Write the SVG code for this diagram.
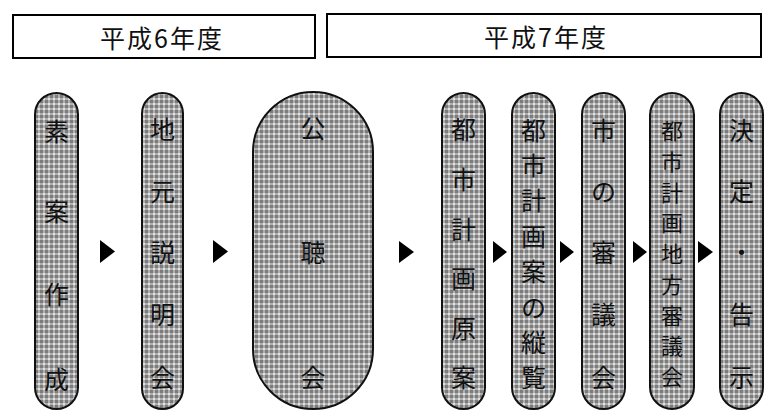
<svg xmlns="http://www.w3.org/2000/svg" width="766" height="410" viewBox="0 0 766 410">
<style>
.hdr{fill:#ffffff;stroke:#000000;stroke-width:2}
.pill{fill:url(#chk);stroke:#111111;stroke-width:2}
.ht{font-family:"Noto Sans CJK JP","Noto Sans",sans-serif;font-size:25px;fill:#111111;text-anchor:middle;dominant-baseline:central;letter-spacing:2px}
.t{font-family:"Noto Sans CJK JP","Noto Sans",sans-serif;font-size:25px;fill:#111111;text-anchor:middle;dominant-baseline:central}
.s{font-size:22px}
.arr{fill:#000000}
</style>
<defs>
<pattern id="chk" width="5" height="5" patternUnits="userSpaceOnUse">
<rect width="5" height="5" fill="#b0b0b0"/>
<rect x="0" y="0" width="3" height="3" fill="#7c7c7c"/>
<rect x="3" y="3" width="2" height="2" fill="#e2e2e2"/>
</pattern>
</defs>
<rect width="766" height="410" fill="#ffffff"/>
<g id="header1">
<rect class="hdr" x="13" y="15" width="302" height="43"/>
<text class="ht" x="162" y="37">平成6年度</text>
</g>
<g id="header2">
<rect class="hdr" x="327" y="14" width="434" height="43"/>
<text class="ht" x="546" y="36">平成7年度</text>
</g>
<g id="node1">
<rect class="pill" x="35" y="93" width="43" height="316" rx="21.5"/>
<text class="t" x="56.5" y="130">素</text>
<text class="t" x="56.5" y="210">案</text>
<text class="t" x="56.5" y="293">作</text>
<text class="t" x="56.5" y="378">成</text>
</g>
<g id="node2">
<rect class="pill" x="142" y="93" width="41" height="316" rx="20.5"/>
<text class="t" x="162.5" y="128">地</text>
<text class="t" x="162.5" y="190">元</text>
<text class="t" x="162.5" y="251">説</text>
<text class="t" x="162.5" y="313">明</text>
<text class="t" x="162.5" y="376">会</text>
</g>
<g id="node3">
<rect class="pill" x="253" y="92" width="120" height="317" rx="60"/>
<text class="t" x="313" y="127">公</text>
<text class="t" x="313" y="251">聴</text>
<text class="t" x="313" y="376">会</text>
</g>
<g id="node4">
<rect class="pill" x="442" y="93" width="43" height="316" rx="21.5"/>
<text class="t" x="463.5" y="128">都</text>
<text class="t" x="463.5" y="178">市</text>
<text class="t" x="463.5" y="228">計</text>
<text class="t" x="463.5" y="277">画</text>
<text class="t" x="463.5" y="327">原</text>
<text class="t" x="463.5" y="376">案</text>
</g>
<g id="node5">
<rect class="pill" x="512" y="93" width="43" height="316" rx="21.5"/>
<text class="t" x="533.5" y="129">都</text>
<text class="t" x="533.5" y="164">市</text>
<text class="t" x="533.5" y="199">計</text>
<text class="t" x="533.5" y="235">画</text>
<text class="t" x="533.5" y="270">案</text>
<text class="t" x="533.5" y="306">の</text>
<text class="t" x="533.5" y="341">縦</text>
<text class="t" x="533.5" y="376">覧</text>
</g>
<g id="node6">
<rect class="pill" x="582" y="93" width="43" height="316" rx="21.5"/>
<text class="t" x="603.5" y="129">市</text>
<text class="t" x="603.5" y="190">の</text>
<text class="t" x="603.5" y="251">審</text>
<text class="t" x="603.5" y="313">議</text>
<text class="t" x="603.5" y="376">会</text>
</g>
<g id="node7">
<rect class="pill" x="650" y="93" width="44" height="316" rx="22"/>
<text class="t s" x="672" y="129">都</text>
<text class="t s" x="672" y="159.75">市</text>
<text class="t s" x="672" y="190.5">計</text>
<text class="t s" x="672" y="221.25">画</text>
<text class="t s" x="672" y="252">地</text>
<text class="t s" x="672" y="282.75">方</text>
<text class="t s" x="672" y="313.5">審</text>
<text class="t s" x="672" y="344.25">議</text>
<text class="t s" x="672" y="375">会</text>
</g>
<g id="node8">
<rect class="pill" x="720" y="93" width="43" height="316" rx="21.5"/>
<text class="t" x="741.5" y="129">決</text>
<text class="t" x="741.5" y="190">定</text>
<text class="t" x="741.5" y="251">・</text>
<text class="t" x="741.5" y="313">告</text>
<text class="t" x="741.5" y="376">示</text>
</g>
<g id="connectors">
<polygon class="arr" points="100,240 115,251.5 100,263"/>
<polygon class="arr" points="213,240 228,251.5 213,263"/>
<polygon class="arr" points="399,241 414,252 399,263"/>
<polygon class="arr" points="493,241 507,252 493,263"/>
<polygon class="arr" points="560,241 574,252 560,263"/>
<polygon class="arr" points="633,241 647,252 633,263"/>
<polygon class="arr" points="698,241 713,252 698,263"/>
</g>
</svg>
